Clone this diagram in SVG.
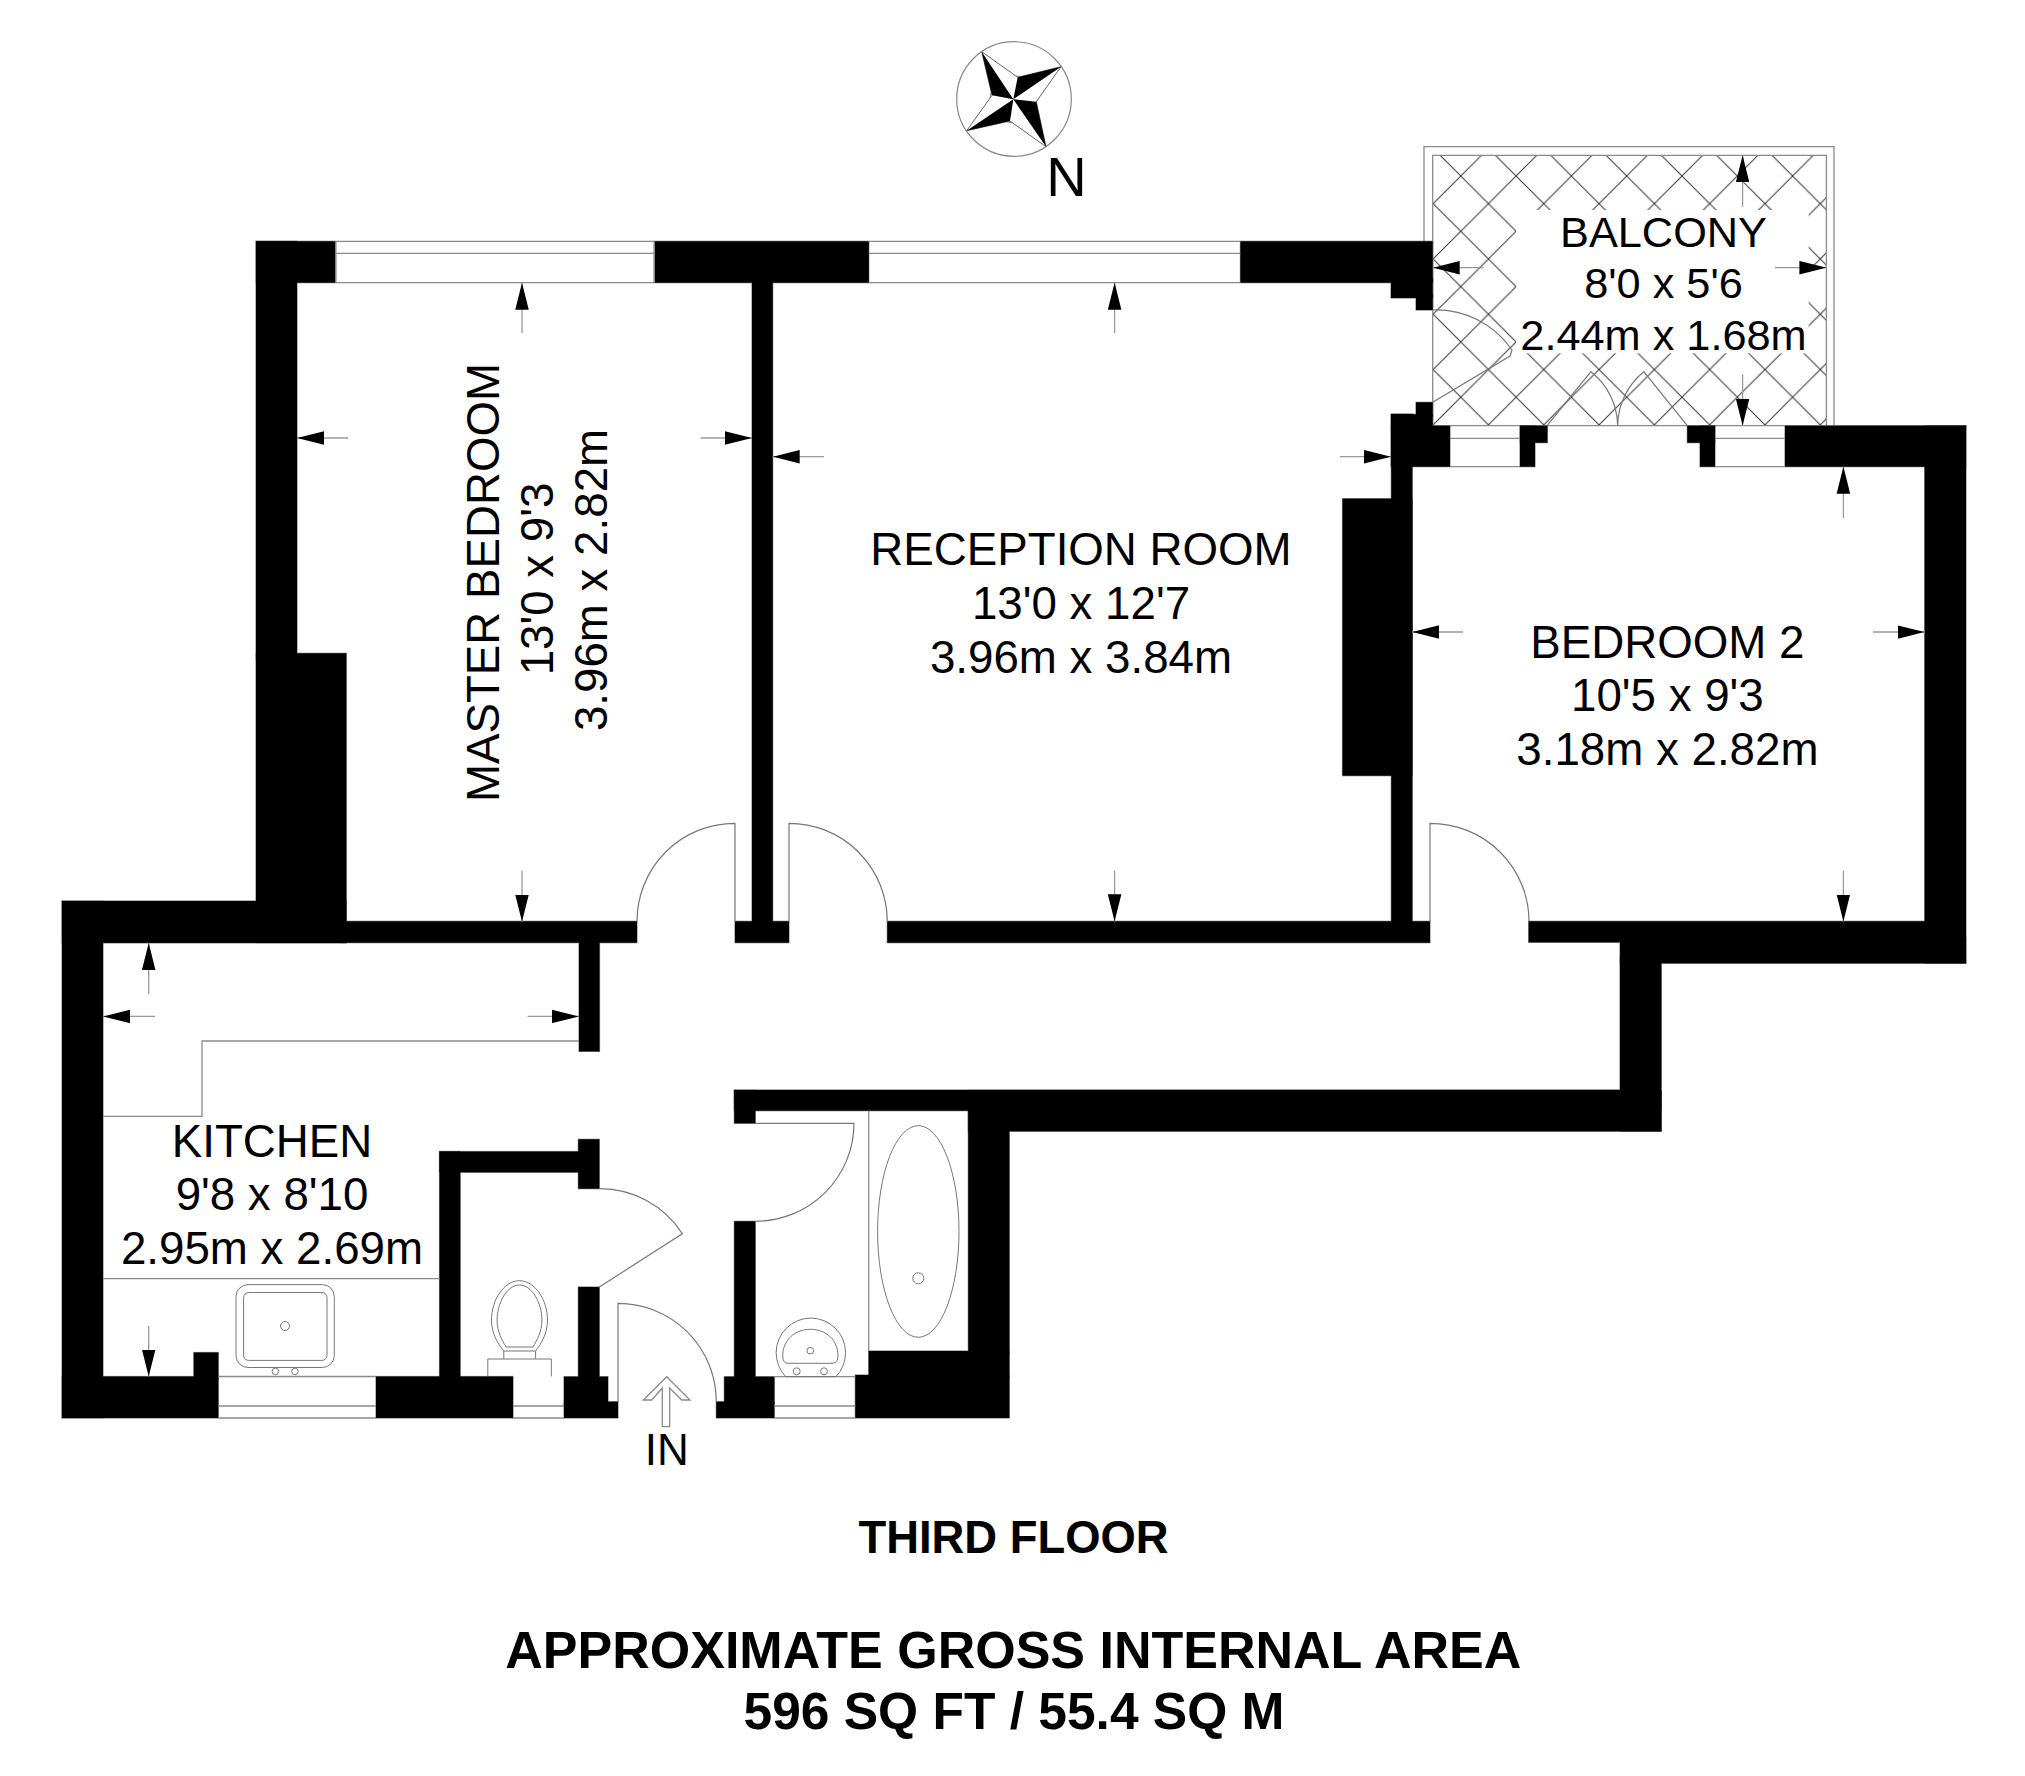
<svg xmlns="http://www.w3.org/2000/svg" width="2025" height="1776" viewBox="0 0 2025 1776">
<style>
.l{fill:none;stroke:#8a8a8a;stroke-width:1.3}
.d{fill:none;stroke:#777;stroke-width:1.2}
.f{fill:none;stroke:#777;stroke-width:1}
.a{fill:none;stroke:#999;stroke-width:1.3;marker-end:url(#ah)}
.t{font-family:"Liberation Sans",Arial,sans-serif;font-size:45.7px;fill:#000;text-anchor:middle}
.s{font-size:43.3px}
.i{font-size:44px}
.b{font-family:"Liberation Sans",Arial,sans-serif;font-weight:bold;fill:#000;text-anchor:middle}
</style>
<defs>
<marker id="ah" markerUnits="userSpaceOnUse" markerWidth="27" markerHeight="14" viewBox="0 0 26 13" refX="26" refY="6.5" orient="auto"><path d="M0 0L26 6.5L0 13Z" fill="#000"/></marker>
<pattern id="hatch" patternUnits="userSpaceOnUse" x="1460.8" y="176" width="55.3" height="55.3"><path d="M0 0L55.3 55.3M0 55.3L55.3 0" stroke="#333" stroke-width="1" fill="none"/></pattern>
<g id="wallshape">
<rect x="256" y="241.3" width="79.7" height="41.4"/>
<rect x="654.3" y="241.3" width="214.5" height="41.4"/>
<rect x="1240.4" y="241.3" width="192.3" height="41.4"/>
<rect x="256" y="241.3" width="41" height="418"/>
<rect x="256" y="653.3" width="90.3" height="289.4"/>
<rect x="62" y="901" width="284.3" height="41.9"/>
<rect x="340" y="921.3" width="297" height="21.4"/>
<rect x="735" y="921.3" width="54" height="21.4"/>
<rect x="887.3" y="921.3" width="542.7" height="21.4"/>
<rect x="752" y="278" width="20.7" height="648"/>
<rect x="579" y="940" width="20.5" height="111.4"/>
<rect x="62" y="901" width="41" height="517"/>
<rect x="1391.3" y="414" width="21" height="512"/>
<rect x="1391" y="278" width="41.7" height="20"/>
<rect x="1416" y="294" width="16.7" height="16"/>
<rect x="1416" y="402.3" width="16.7" height="14"/>
<rect x="1391" y="414.3" width="41.7" height="14"/>
<rect x="1391" y="425.7" width="59" height="41"/>
<rect x="1520" y="425.7" width="27.4" height="17"/>
<rect x="1520" y="425.7" width="15" height="41"/>
<rect x="1687.3" y="425.7" width="27.7" height="17"/>
<rect x="1700" y="425.7" width="15" height="41"/>
<rect x="1785" y="425.7" width="181" height="41"/>
<rect x="1342.5" y="498.7" width="69.8" height="277"/>
<rect x="1528.7" y="921.3" width="400" height="21"/>
<rect x="1620" y="938" width="346" height="25.3"/>
<rect x="1924.7" y="425.7" width="41.3" height="537.6"/>
<rect x="1620" y="958" width="41.3" height="173.3"/>
<rect x="734.3" y="1090" width="927" height="20.7"/>
<rect x="968.3" y="1090" width="693" height="41.3"/>
<rect x="734.3" y="1090" width="21" height="33.3"/>
<rect x="734.3" y="1221.3" width="21" height="158"/>
<rect x="968.3" y="1105" width="41" height="250"/>
<rect x="868.7" y="1351" width="140.6" height="28"/>
<rect x="855.3" y="1375" width="154" height="43"/>
<rect x="724.3" y="1376.7" width="50" height="28"/>
<rect x="716.3" y="1401.7" width="58" height="16.3"/>
<rect x="578.3" y="1139.3" width="21" height="49.4"/>
<rect x="578.3" y="1287" width="21" height="92"/>
<rect x="439.5" y="1151.5" width="142" height="20.8"/>
<rect x="439.5" y="1151.5" width="20.7" height="228"/>
<rect x="564" y="1376.7" width="44" height="28"/>
<rect x="564" y="1401.7" width="54" height="16.3"/>
<rect x="376" y="1376.5" width="137" height="41.5"/>
<rect x="62" y="1376.5" width="156.3" height="41.5"/>
<rect x="193.8" y="1352.5" width="24.5" height="27"/>
</g>
</defs>
<rect width="2025" height="1776" fill="#fff"/>

<g id="compass">
<circle cx="1014" cy="99" r="57.3" fill="#fff" stroke="#888" stroke-width="1.2"/>
<circle cx="1013.5" cy="99.3" r="23.5" fill="none" stroke="#888" stroke-width="1"/>
<path d="M981.7 51.7L1017.7 77.3L1061 66.7L1036.3 101.7L1046 146.7L1010 121L966.7 130.7L992 95.3Z" fill="#fff" stroke="#666" stroke-width="1"/>
<path d="M981.7 51.7L992 95.3L1013.3 99.3ZM1061 66.7L1017.7 77.3L1013.3 99.3ZM1046 146.7L1036.3 101.7L1013.3 99.3ZM966.7 130.7L1010 121L1013.3 99.3Z" fill="#000"/>
<text x="1066.5" y="196" font-family="'Liberation Sans',Arial,sans-serif" font-size="56" text-anchor="middle">N</text>
</g>

<g id="balcony">
<rect x="1432.7" y="155.3" width="393.7" height="270.4" fill="url(#hatch)"/>
<rect x="1516" y="210" width="292.6" height="143.3" fill="#fff"/>
<path class="l" d="M1424 241.3V146.7H1834V425.7M1432.7 425.7V155.3H1826.4V425.7M1432.7 425.7H1785"/>
<path class="d" d="M1432.7 310A92 92 0 0 1 1512 350L1510 356L1432.7 402.3"/>
<path class="d" d="M1547 425.7L1591 371.7A70 70 0 0 1 1617.7 425.7A70 70 0 0 1 1643.8 371.7L1687.3 425.7"/>
<g class="balcony-text">
<text class="t s" x="1663.5" y="246.7">BALCONY</text>
<text class="t s" x="1663.5" y="297.7">8'0 x 5'6</text>
<text class="t s" x="1663.5" y="349.5">2.44m x 1.68m</text>
</g>
</g>

<g id="walls">
<use href="#wallshape" fill="#000" stroke="#888" stroke-width="1.2"/>
<use href="#wallshape" fill="#000"/>
</g>

<g id="windows">
<path class="l" d="M335.7 241.3H654.3M335.7 253.3H654.3M335.7 282.7H654.3M335.7 241.3V282.7M654.3 241.3V282.7"/>
<path class="l" d="M868.8 241.3H1240.4M868.8 253.3H1240.4M868.8 282.7H1240.4"/>
<path class="l" d="M1450 438.3H1520M1450 466.7H1520M1715 438.3H1785M1715 466.7H1785"/>
<path class="l" d="M218.3 1376.5H376M218.3 1406H376M218.3 1418H376"/>
<path class="l" d="M513 1406H564M513 1418H564"/>
<path class="l" d="M774.3 1376.7H855.3M774.3 1406H855.3M774.3 1418H855.3"/>
</g>

<g id="doors">
<path class="d" d="M637 921.3A98 98 0 0 1 735 823.3V921.3"/>
<path class="d" d="M789 921.3V823.3A98.3 98.3 0 0 1 887.3 921.3"/>
<path class="d" d="M1430 921.3V823.3A99 98 0 0 1 1529 921.3"/>
<path class="d" d="M755.3 1123.3H854A98.7 98 0 0 1 755.3 1221.3"/>
<path class="d" d="M599.3 1188.7A98.3 98.3 0 0 1 682.3 1233.7L599.3 1287"/>
<path class="d" d="M618 1401.7V1303.3A98.3 98.3 0 0 1 716.3 1401.7"/>
</g>

<g id="fixtures">
<path class="l" d="M579 1041H202V1116.4H103"/>
<path class="l" d="M103 1278.6H439.5"/>
<path class="l" d="M868.7 1110.7V1351"/>
<rect class="f" x="236" y="1284.6" width="98.3" height="82.9" rx="12"/>
<rect class="f" x="243.6" y="1292.5" width="83.4" height="67.9" rx="5"/>
<circle class="f" cx="285" cy="1326" r="4.5"/>
<circle class="f" cx="275.4" cy="1371.4" r="3.3"/>
<circle class="f" cx="294.9" cy="1371.4" r="3.3"/>
<path class="f" d="M519.5 1280.7C535 1280.7 547.5 1300 547.5 1320C547.5 1335 540 1345 535.6 1351H503.8C499 1345 491.5 1335 491.5 1320C491.5 1300 504 1280.7 519.5 1280.7Z"/>
<path class="f" d="M519.5 1285C532 1285 541.9 1303 541.9 1320C541.9 1332 537 1340 533 1347H506C502 1340 497.1 1332 497.1 1320C497.1 1303 507 1285 519.5 1285Z"/>
<path class="f" d="M503.8 1351V1359M535.6 1351V1359M487.8 1376.4V1359H551.3V1376.4"/>
<ellipse class="f" cx="918.3" cy="1231.5" rx="40.7" ry="105.8"/>
<circle class="f" cx="918.3" cy="1278.3" r="5.5"/>
<path class="f" d="M785.7 1376.7A34.7 34.7 0 1 1 836 1376.7H785.7"/>
<path class="f" d="M788 1363.3Q782.7 1363.3 782.7 1356C782.7 1340 795 1329.3 810.3 1329.3C826 1329.3 838 1340 838 1356Q838 1363.3 832 1363.3Z"/>
<circle class="f" cx="810.3" cy="1350.7" r="3.3"/>
<circle class="f" cx="796.7" cy="1371.3" r="3.5"/>
<circle class="f" cx="824" cy="1371.3" r="3.5"/>
</g>

<g id="dimension-arrows">
<line class="a" x1="522" y1="333" x2="522" y2="282.7"/>
<line class="a" x1="522" y1="870.7" x2="522" y2="921.7"/>
<line class="a" x1="348" y1="438" x2="297" y2="438"/>
<line class="a" x1="700.7" y1="438" x2="752" y2="438"/>
<line class="a" x1="1114.6" y1="333" x2="1114.6" y2="282.7"/>
<line class="a" x1="1114.6" y1="870.7" x2="1114.6" y2="921.3"/>
<line class="a" x1="824" y1="456.7" x2="772.7" y2="456.7"/>
<line class="a" x1="1340" y1="456.7" x2="1391" y2="456.7"/>
<line class="a" x1="1843.4" y1="518" x2="1843.4" y2="466.7"/>
<line class="a" x1="1843.4" y1="870.7" x2="1843.4" y2="921.5"/>
<line class="a" x1="1463" y1="632" x2="1412.3" y2="632"/>
<line class="a" x1="1873" y1="632" x2="1924.5" y2="632"/>
<line class="a" x1="1483.7" y1="267.7" x2="1432.7" y2="267.7"/>
<line class="a" x1="1775" y1="267.7" x2="1826.4" y2="267.7"/>
<line class="a" x1="1742.6" y1="206.7" x2="1742.6" y2="155.3"/>
<line class="a" x1="1742.6" y1="374.3" x2="1742.6" y2="425.7"/>
<line class="a" x1="148.7" y1="994" x2="148.7" y2="942.9"/>
<line class="a" x1="148.7" y1="1325.7" x2="148.7" y2="1376.5"/>
<line class="a" x1="155" y1="1016.4" x2="103" y2="1016.4"/>
<line class="a" x1="527.6" y1="1016.4" x2="579" y2="1016.4"/>
</g>

<g id="entrance">
<path class="l" fill="#fff" d="M662.3 1426.7V1388L651.7 1400H643.3L666.7 1376.7L690 1400H681.7L669.7 1388V1426.7Z"/>
<text class="t i" x="666.7" y="1465">IN</text>
</g>

<g id="master-bedroom">
<text class="t" transform="translate(498.8 582.5) rotate(-90)">MASTER BEDROOM</text>
<text class="t" transform="translate(552.7 579) rotate(-90)">13'0 x 9'3</text>
<text class="t" transform="translate(606.7 580) rotate(-90)">3.96m x 2.82m</text>
</g>
<g id="reception-room">
<text class="t" x="1081" y="565">RECEPTION ROOM</text>
<text class="t" x="1081" y="619.3">13'0 x 12'7</text>
<text class="t" x="1081" y="673.3">3.96m x 3.84m</text>
</g>
<g id="bedroom-2">
<text class="t" x="1667.4" y="657.8">BEDROOM 2</text>
<text class="t" x="1667.4" y="711.2">10'5 x 9'3</text>
<text class="t" x="1667.4" y="764.8">3.18m x 2.82m</text>
</g>
<g id="kitchen">
<text class="t" x="272" y="1157.4">KITCHEN</text>
<text class="t" x="272" y="1209.5">9'8 x 8'10</text>
<text class="t" x="272" y="1263.5">2.95m x 2.69m</text>
</g>

<g id="caption">
<text class="b" x="1013.5" y="1552.7" font-size="45.4">THIRD FLOOR</text>
<text class="b" x="1013.3" y="1667.7" font-size="52">APPROXIMATE GROSS INTERNAL AREA</text>
<text class="b" x="1014" y="1729.3" font-size="51.5">596 SQ FT / 55.4 SQ M</text>
</g>
</svg>
